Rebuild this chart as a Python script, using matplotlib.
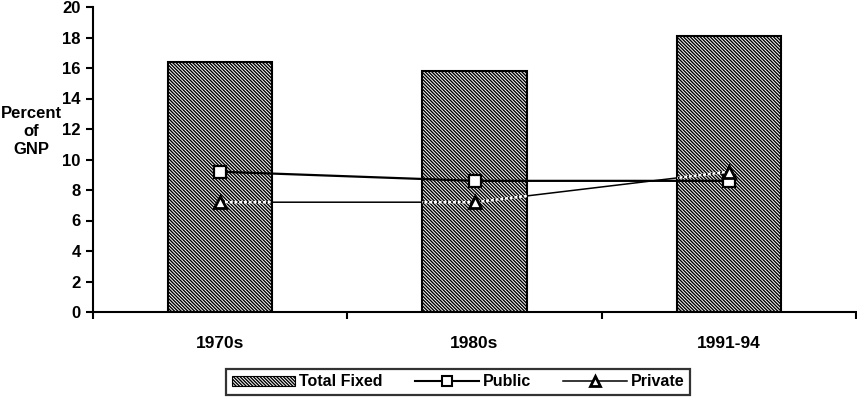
import matplotlib.pyplot as plt
from matplotlib.patches import Patch
from matplotlib.lines import Line2D

categories = ['1970s', '1980s', '1991-94']
total_fixed = [16.4, 15.8, 18.1]
public = [9.2, 8.6, 8.6]
private = [7.2, 7.2, 9.2]

plt.rcParams['font.family'] = ['Liberation Sans', 'DejaVu Sans']
plt.rcParams['font.weight'] = 'bold'
plt.rcParams['hatch.linewidth'] = 1.0

fig = plt.figure(figsize=(8.57, 4.03), dpi=100)
ax = fig.add_axes([93 / 857, 91 / 403, 763 / 857, 305 / 403])

x = list(range(len(categories)))
bars = ax.bar(x, total_fixed, width=0.41, facecolor='white', edgecolor='black',
              linewidth=1.5, hatch='\\' * 10, zorder=2)

ax.plot(x, public, color='black', linewidth=1.6, marker='s', markersize=8.5,
        markerfacecolor='white', markeredgecolor='black', markeredgewidth=1.6, zorder=5)

# private line: thin black, shows white over the hatched bars
ax.plot(x, private, color='black', linewidth=1.1, zorder=3)
for b in bars:
    ln, = ax.plot(x, private, color='white', linewidth=1.8, linestyle=(0, (1.2, 0.7)), zorder=4)
    ln.set_clip_path(b)
ax.plot(x, private, linestyle='none', marker='^', markersize=8,
        markerfacecolor='white', markeredgecolor='black', markeredgewidth=2, zorder=6)

ax.set_xlim(-0.5, 2.5)
ax.set_ylim(0, 20)
ax.set_yticks(range(0, 21, 2))
ax.set_xticks(x)
ax.set_xticklabels(categories, fontsize=12.5, fontweight='bold')
ax.set_xticks([-0.5, 0.5, 1.5, 2.5], minor=True)
ax.tick_params(axis='x', which='major', length=0, pad=17)
ax.tick_params(axis='x', which='minor', length=5, width=1.5, direction='out')
ax.tick_params(axis='y', length=5, width=1.5, direction='out', labelsize=12, pad=4)
for lab in ax.get_yticklabels():
    lab.set_fontweight('bold')

for s in ['top', 'right']:
    ax.spines[s].set_visible(False)
for s in ['left', 'bottom']:
    ax.spines[s].set_linewidth(1.5)

fig.text(31 / 857, 1 - 131 / 403, 'Percent\nof\nGNP', ha='center', va='center',
         fontsize=12, fontweight='bold', linespacing=1.25)

handles = [
    Patch(facecolor='white', edgecolor='black', hatch='\\' * 10, linewidth=0.8),
    Line2D([], [], color='black', linewidth=1.5, marker='s', markersize=7,
           markerfacecolor='white', markeredgewidth=1.5),
    Line2D([], [], color='black', linewidth=1.1, marker='^', markersize=7,
           markerfacecolor='white', markeredgewidth=2),
]
leg = fig.legend(handles, ['Total Fixed', 'Public', 'Private'], loc='center',
                 bbox_to_anchor=(458 / 857, 1 - 382 / 403), ncol=3, frameon=True,
                 fancybox=False, edgecolor='black', fontsize=11.5, handlelength=4.0,
                 handleheight=0.55, handletextpad=0.25, columnspacing=2.0,
                 borderpad=0.35)
leg.get_frame().set_linewidth(1.6)
for t in leg.get_texts():
    t.set_fontweight('bold')

fig.savefig('out.png', dpi=100)
